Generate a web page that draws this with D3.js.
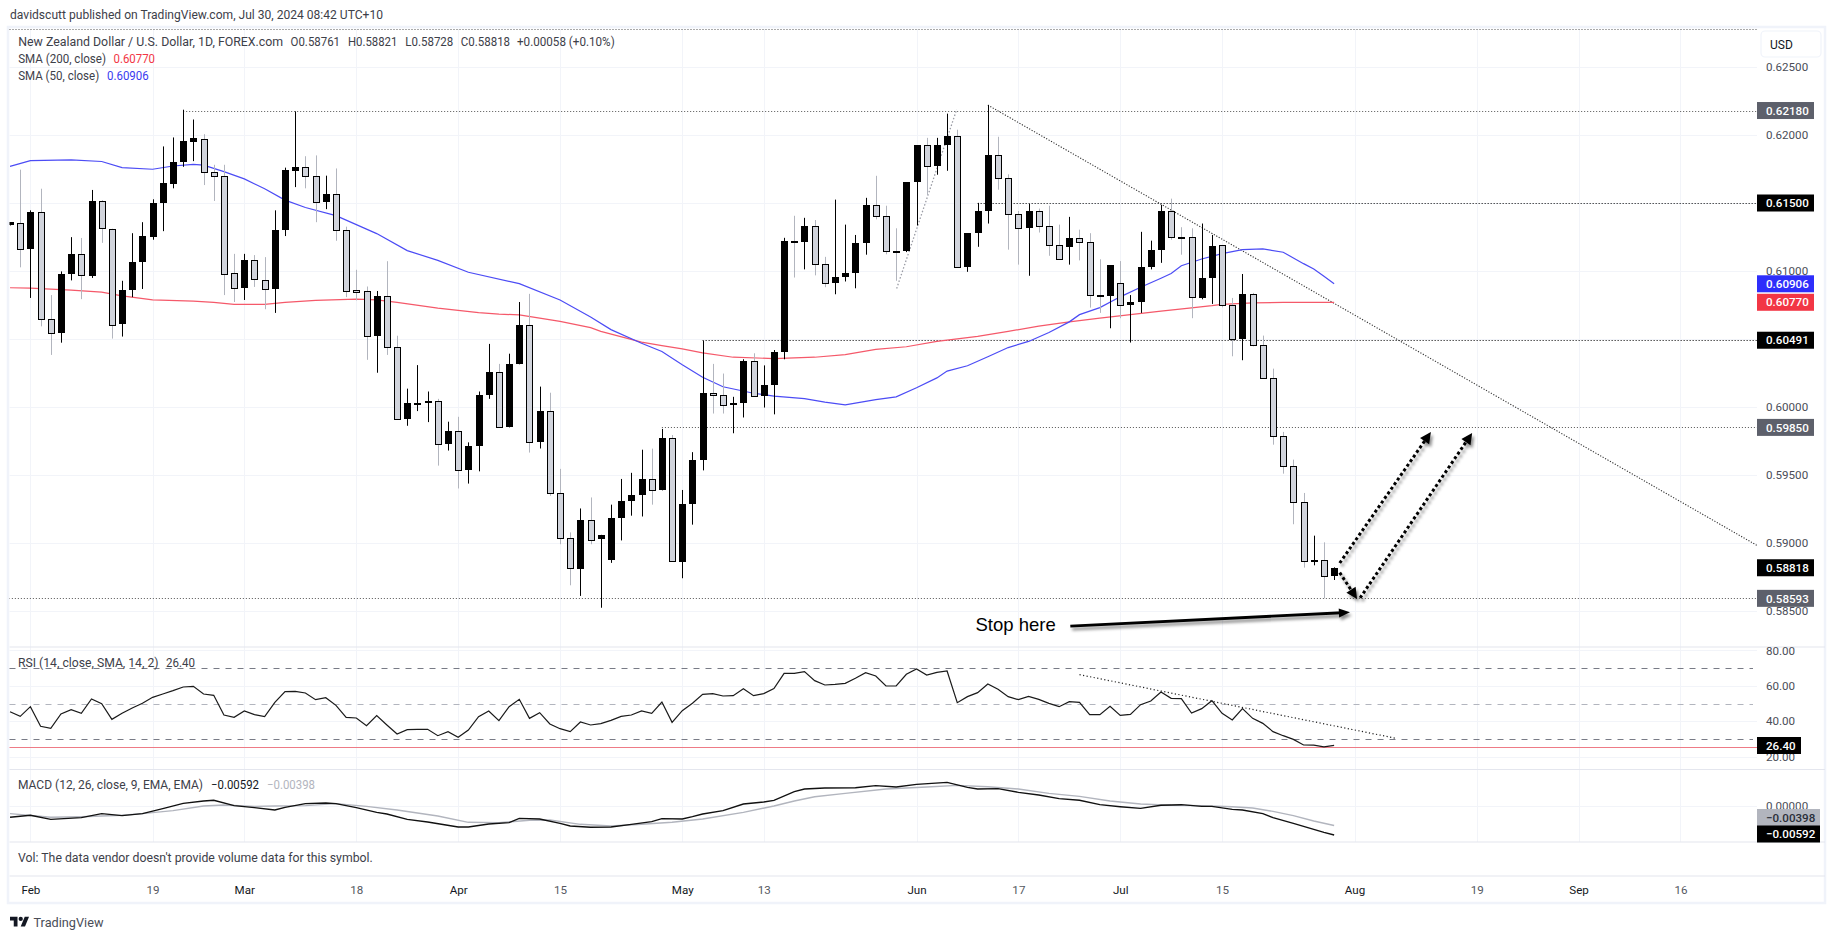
<!DOCTYPE html>
<html><head><meta charset="utf-8">
<script src="https://cdn.jsdelivr.net/npm/d3@7/dist/d3.min.js"></script>
<style>
html,body{margin:0;padding:0;background:#fff;overflow:hidden}
svg{display:block}
text{font-family:Roboto,"Noto Sans",sans-serif;font-size:12px;fill:#3d4049}
.axis text{font-family:Roboto,sans-serif;font-size:11.6px;fill:#4a4d57}
.axis path,.axis line{display:none}
</style></head><body>
<script>
// ---------- data ----------
const firstBar = -2; // bar number 0 = 1 Feb 2024
const opens = [
.61335,.61356,.61168,.61437,.60644,.60542,.60973,.61123,.60964,.61512,
.61311,.60608,.60856,.61063,.61251,.61494,.61641,.61802,.61949,.61973,
.61731,.61701,.60982,.60871,.61078,.60937,.60865,.61296,.61737,.61766,
.61701,.61509,.61569,.61305,.60862,.60850,.60518,.60814,.60440,.59910,
.60027,.60039,.60045,.59727,.59823,.59536,.59713,.60087,.60257,.59850,
.60314,.60602,.59742,.59970,.59368,.59036,.58811,.59171,.59027,.58872,
.59182,.59308,.59353,.59471,.59387,.59770,.58864,.59285,.59608,.60101,
.60088,.60015,.60028,.60338,.60080,.60159,.60401,.61220,.61209,.61330,
.61052,.60910,.60952,.60984,.61204,.61485,.61401,.61146,.61144,.61651,
.61926,.61769,.61924,.61992,.61025,.61278,.61438,.61853,.61682,.61420,
.61314,.61441,.61330,.61191,.61173,.61241,.61212,.60823,.60813,.60910,
.60750,.60768,.61026,.61152,.61441,.61249,.61249,.60802,.60947,.61189,
.60748,.60500,.60831,.60456,.60214,.59787,.59567,.59302,.58873,.58875,.58761];
const closes = [
.61359,.61168,.61437,.60647,.60542,.60976,.61123,.60967,.61512,.61311,
.60608,.60859,.61063,.61254,.61500,.61644,.61805,.61955,.61976,.61731,
.61701,.60982,.60871,.61078,.60937,.60868,.61299,.61740,.61766,.61701,
.61512,.61569,.61305,.60859,.60850,.60521,.60814,.60440,.59913,.60030,
.60033,.60045,.59727,.59823,.59539,.59713,.60087,.60257,.59853,.60314,
.60602,.59745,.59970,.59368,.59036,.58814,.59171,.59027,.59060,.59182,
.59308,.59353,.59471,.59390,.59770,.58867,.59287,.59610,.60101,.60088,
.60015,.60028,.60338,.60080,.60162,.60403,.61220,.61215,.61330,.61052,
.60913,.60955,.60984,.61204,.61485,.61401,.61146,.61144,.61653,.61926,
.61769,.61926,.61992,.61028,.61278,.61441,.61853,.61685,.61420,.61317,
.61441,.61330,.61191,.61089,.61241,.61212,.60823,.60821,.61044,.60750,
.60773,.61028,.61154,.61441,.61249,.61246,.60808,.60947,.61183,.60748,
.60500,.60831,.60456,.60214,.59787,.59567,.59302,.58868,.58878,.58755,.58818];
const highs = [
.61359,.61745,.61446,.61605,.60823,.60997,.61249,.61243,.61596,.61521,
.61311,.60928,.61278,.61359,.61527,.61916,.61982,.62186,.62114,.62006,
.61781,.61781,.61126,.61126,.61117,.61102,.61446,.61760,.62174,.61844,
.61850,.61701,.61754,.61326,.61009,.60886,.60853,.61072,.60524,.60135,
.60308,.60114,.60060,.59892,.59928,.59740,.60114,.60464,.60317,.60392,
.60772,.60832,.60150,.60105,.59545,.59078,.59254,.59335,.59060,.59282,
.59471,.59516,.59686,.59694,.59839,.59794,.59390,.59668,.60487,.60317,
.60246,.60075,.60351,.60395,.60306,.60419,.61244,.61406,.61391,.61375,
.61104,.61525,.61341,.61265,.61538,.61700,.61480,.61314,.61653,.61926,
.61979,.61979,.62157,.62039,.61278,.61501,.62220,.61987,.61711,.61441,
.61493,.61459,.61480,.61341,.61398,.61304,.61278,.61086,.61044,.61073,
.60823,.61288,.61223,.61485,.61532,.61322,.61314,.61349,.61265,.61189,
.60802,.60978,.60839,.60525,.60282,.59817,.59613,.59368,.59054,.59005,.58821];
const lows = [
.61335,.61027,.60802,.60593,.60383,.60473,.60931,.60793,.60949,.61207,
.60503,.60518,.60808,.60868,.61230,.61293,.61608,.61766,.61808,.61632,
.61515,.60823,.60772,.60787,.60883,.60719,.60692,.61257,.61617,.61608,
.61359,.61455,.61222,.60808,.60784,.60347,.60252,.60383,.59910,.59862,
.59970,.59889,.59569,.59680,.59401,.59437,.59527,.60060,.59850,.59850,
.60314,.59665,.59695,.59347,.58991,.58689,.58611,.58991,.58524,.58854,
.59019,.59201,.59195,.59282,.59387,.58862,.58741,.59135,.59534,.59952,
.59952,.59807,.59923,.60075,.59996,.59946,.60351,.60952,.61012,.60968,
.60881,.60829,.60923,.60873,.61120,.61380,.61123,.60928,.61139,.61335,
.61559,.61708,.61737,.61023,.60994,.61178,.61349,.61598,.61157,.61047,
.60965,.61283,.61112,.61081,.61047,.61078,.60731,.60692,.60579,.60653,
.60474,.60692,.61012,.61060,.61230,.61120,.60653,.60792,.60758,.60733,
.60373,.60344,.60446,.60214,.59723,.59510,.59138,.58819,.58836,.58593,.58728];

const sma50Bars = [-2,0,4,7,9,12,14,16,17,19,21,23,25,27,30,32,34,37,40,43,48,52,55,57,60,62,64,66,68,71,73,76,78,80,83,85,87,89,90,92,94,96,98,100,102,103,105,107,109,111,112,113,115,117,119,121,123,124,125,126,127,128];
const sma50Vals = [.61769,.61811,.61817,.61805,.61760,.61748,.61772,.61784,.61778,.61731,.61677,.61605,.61521,.61467,.61407,.61341,.61275,.61150,.61078,.60991,.60907,.60787,.60662,.60569,.60469,.60408,.60311,.60219,.60149,.60101,.60080,.60062,.60036,.60015,.60054,.60075,.60141,.60214,.60264,.60303,.60369,.60437,.60482,.60548,.60626,.60679,.60731,.60810,.60881,.60947,.60981,.61039,.61088,.61128,.61157,.61162,.61138,.61096,.61054,.61015,.60961,.60906];
const sma200Bars = [-2,0,4,7,9,12,16,18,20,23,25,28,32,34,36,40,44,46,48,50,52,55,56,60,62,64,66,69,73,77,80,83,86,89,93,96,99,102,105,108,111,114,116,117,120,123,128];
const sma200Vals = [.60877,.60874,.60859,.60844,.60817,.60787,.60778,.60769,.60754,.60754,.60769,.60784,.60793,.60787,.60769,.60727,.60694,.60683,.60677,.60653,.60629,.60584,.60556,.60477,.60451,.60427,.60398,.60366,.60356,.60366,.60385,.60424,.60443,.60482,.60519,.60556,.60595,.60626,.60653,.60679,.60705,.60729,.60745,.60755,.60765,.60770,.60770];

const rsiVals = [
45.39,42.76,48.21,37.12,35.99,44.08,46.52,44.45,52.54,49.91,41.07,44.45,47.46,50.10,53.48,55.36,57.24,59.31,59.69,55.36,54.61,
43.51,42.20,45.77,43.70,42.57,50.66,56.68,56.87,55.93,52.16,53.29,48.97,42.20,41.82,37.49,43.14,37.87,32.79,35.24,35.43,35.43,
31.85,34.11,30.91,35.05,42.57,45.77,40.31,48.21,52.35,41.63,44.83,38.43,35.80,34.11,39.56,37.87,38.62,40.50,42.76,43.51,45.77,
44.45,50.85,39.37,45.96,50.10,55.20,55.55,54.23,54.42,58.37,54.42,55.55,58.37,67.02,67.02,67.96,62.88,60.44,60.82,61.38,64.20,
67.40,65.52,59.87,59.87,66.46,69.47,66.08,67.59,68.34,50.47,53.86,56.11,61.00,58.00,53.86,52.16,54.04,52.35,50.10,48.21,51.04,
50.66,43.70,43.70,48.40,43.32,43.89,49.34,51.41,56.49,52.92,52.73,44.64,47.09,51.60,44.45,40.69,47.09,41.63,38.81,34.11,31.85,
29.78,26.60,26.50,25.60,26.40];

const macdBars = [-2,0,2,5,7,9,11,13,15,17,18,20,22,24,25,27,29,30,32,34,35,37,39,42,43,45,47,48,50,52,53,55,57,59,61,62,64,65,66,68,70,72,73,75,76,78,81,83,85,87,90,92,93,95,97,99,101,103,105,107,109,111,113,115,116,118,119,121,122,124,126,127,128];
const macdVals = [-.00231,-.00190,-.00272,-.00238,-.00156,-.00197,-.00156,-.00054,.00054,.00102,.00116,.00007,-.00034,-.00082,-.00027,.00048,.00061,.00048,-.00034,-.00129,-.00163,-.00272,-.00326,-.00428,-.00428,-.00367,-.00340,-.00252,-.00265,-.00354,-.00408,-.00435,-.00428,-.00374,-.00320,-.00258,-.00265,-.00218,-.00163,-.00095,.00041,.00082,.00116,.00292,.00347,.00367,.00374,.00415,.00388,.00442,.00483,.00381,.00347,.00354,.00279,.00224,.00150,.00116,.00027,-.00014,-.00048,.00014,.00027,-.00007,-.00007,-.00068,-.00082,-.00156,-.00238,-.00354,-.00476,-.00537,-.00592];
const signalBars = [-2,2,5,9,11,14,17,19,22,24,27,30,33,36,40,43,46,49,51,54,57,60,63,66,70,73,75,77,80,84,88,91,94,97,100,103,106,109,112,115,118,120,122,124,126,128];
const signalVals = [-.00156,-.00231,-.00218,-.00190,-.00156,-.00095,0,.00020,-.00007,0,.00007,.00048,-.00007,-.00082,-.00204,-.00333,-.00340,-.00292,-.00286,-.00374,-.00408,-.00374,-.00333,-.00265,-.00129,0,.00102,.00190,.00258,.00347,.00388,.00422,.00394,.00347,.00258,.00197,.00102,.00041,.00014,.00007,-.00014,-.00041,-.00109,-.00197,-.00306,-.00398];

const priceTicks = [.585,.59,.595,.6,.605,.61,.615,.62,.625];
const rsiTicks = [20,40,60,80];
const rsiBands = [70,50,30];
const macdTicks = [0];
const timeBars = [0,12,21,32,42,52,64,72,87,97,107,117,130,142,152,162];
const timeLabels = ["Feb","19","Mar","18","Apr","15","May","13","Jun","17","Jul","15","Aug","19","Sep","16"];

const levelPrices = [.6218,.615,.60491,.5985,.58593];
const levelStarts = [15,93,66,62,-3];
const levelLabels = ["0.62180","0.61500","0.60491","0.59850","0.58593"];
const levelColors = ["#5d606b","#000000","#000000","#5d606b","#5d606b"];

// ---------- layout ----------
const W=1835,H=939,L=9.5,R=1757,T=29,RB=1825;
const svg=d3.select("body").append("svg").attr("width",W).attr("height",H);
const defs=svg.append("defs");
defs.append("clipPath").attr("id","mainClip").append("rect").attr("x",L).attr("y",T).attr("width",R-L).attr("height",647-T);
defs.append("filter").attr("id","sh").attr("x","-20%").attr("y","-20%").attr("width","140%").attr("height","140%")
 .append("feDropShadow").attr("dx",2).attr("dy",3).attr("stdDeviation",1.6).attr("flood-color","#000").attr("flood-opacity",.45);

const x=d3.scaleLinear().domain([0,130]).range([30.4,1354.5]);
const y=d3.scaleLinear().domain([.61,.6]).range([271,407]);
const yRsi=d3.scaleLinear().domain([80,20]).range([650.3,756.7]);
const yMacd=d3.scaleLinear().domain([0,-.00592]).range([806,835]);

const bars=d3.range(opens.length).map(i=>({b:i+firstBar,o:opens[i],c:closes[i],h:highs[i],l:lows[i]}));

// frame
const fr="#f0f3fa";
svg.append("rect").attr("x",8).attr("y",27).attr("width",RB-8).attr("height",903-27).attr("fill","none").attr("stroke",fr).attr("stroke-width",2.5);
// grid
const grid=svg.append("g").attr("stroke","#f2f4f9").attr("stroke-width",1);
grid.selectAll("line.v").data(timeBars).join("line").attr("x1",d=>Math.round(x(d))+.5).attr("x2",d=>Math.round(x(d))+.5).attr("y1",T).attr("y2",842);
grid.selectAll("line.p").data(priceTicks).join("line").attr("x1",L).attr("x2",R).attr("y1",d=>Math.round(y(d))+.5).attr("y2",d=>Math.round(y(d))+.5);
grid.selectAll("line.r").data(rsiTicks).join("line").attr("x1",L).attr("x2",R).attr("y1",d=>Math.round(yRsi(d))+.5).attr("y2",d=>Math.round(yRsi(d))+.5);
grid.selectAll("line.m").data(macdTicks).join("line").attr("x1",L).attr("x2",R).attr("y1",d=>Math.round(yMacd(d))+.5).attr("y2",d=>Math.round(yMacd(d))+.5);
// separators
svg.append("g").attr("stroke","#e4e6ee").attr("stroke-width",1.2).selectAll("line").data([647,769.5,842,876]).join("line")
 .attr("x1",L).attr("x2",RB).attr("y1",d=>d).attr("y2",d=>d);

// top dotted
svg.append("line").attr("x1",L).attr("x2",R).attr("y1",29.5).attr("y2",29.5).attr("stroke","#555").attr("stroke-width",1).attr("stroke-dasharray","1 2");

const main=svg.append("g").attr("clip-path","url(#mainClip)");
// level lines
levelPrices.forEach((p,i)=>{
 main.append("line").attr("x1",x(levelStarts[i])).attr("x2",R).attr("y1",Math.round(y(p))+.5).attr("y2",Math.round(y(p))+.5)
  .attr("stroke",levelColors[i]==="#000000"?"#000":"#555").attr("stroke-width",1).attr("stroke-dasharray","1 2");
});
// trend lines
const trendBars=[94,169.5], trendPrices=[.6222,.58983];
main.append("line").attr("x1",x(trendBars[0])).attr("y1",y(trendPrices[0])).attr("x2",x(trendBars[1])).attr("y2",y(trendPrices[1]))
 .attr("stroke","#333").attr("stroke-width",1.1).attr("stroke-dasharray","1.2 1.6");
const rayBars=[85.05,90.95], rayPrices=[.60871,.62189];
main.append("line").attr("x1",x(rayBars[0])).attr("y1",y(rayPrices[0])).attr("x2",x(rayBars[1])).attr("y2",y(rayPrices[1]))
 .attr("stroke","#9a9ca5").attr("stroke-width",1.3).attr("stroke-dasharray","1.5 2");

// moving averages
const ln=d3.line();
main.append("path").attr("d",ln(sma200Bars.map((b,i)=>[x(b),y(sma200Vals[i])]))).attr("fill","none").attr("stroke","#f5596a").attr("stroke-width",1.2);
main.append("path").attr("d",ln(sma50Bars.map((b,i)=>[x(b),y(sma50Vals[i])]))).attr("fill","none").attr("stroke","#4c4cf5").attr("stroke-width",1.2);

// candles
const g=main.append("g");
g.selectAll("rect.w").data(bars).join("rect").attr("x",d=>Math.round(x(d.b))).attr("width",1)
 .attr("y",d=>y(d.h)).attr("height",d=>Math.max(1,y(d.l)-y(d.h))).attr("fill",d=>d.c>=d.o?"#000":"#b2b5be");
g.selectAll("rect.b").data(bars).join("rect")
 .attr("x",d=>Math.round(x(d.b))-3+(d.c>=d.o?0:.5))
 .attr("width",d=>d.c>=d.o?7:6)
 .attr("y",d=>Math.round(y(Math.max(d.o,d.c)))+(d.c>=d.o?0:.5))
 .attr("height",d=>Math.max(d.c>=d.o?2:1,Math.round(y(Math.min(d.o,d.c))-y(Math.max(d.o,d.c)))))
 .attr("fill",d=>d.c>=d.o?"#000":"#d1d4dc").attr("stroke",d=>d.c>=d.o?"none":"#000").attr("stroke-width",1);

// annotation arrows
const ann=svg.append("g").attr("filter","url(#sh)");
const arrowBars=[[128.55,137.5],[128.55,130.25],[130.55,141.55]];
const arrowPrices=[[.58853,.59816],[.58782,.58588],[.58596,.59809]];
function head(x2,y2,ang,len,wid){
 const c=Math.cos(ang),s=Math.sin(ang);
 return `M${x2},${y2}L${x2-len*c-wid*s},${y2-len*s+wid*c}L${x2-len*c+wid*s},${y2-len*s-wid*c}Z`;
}
arrowBars.forEach((bs,i)=>{
 const x1=x(bs[0]),x2=x(bs[1]),y1=y(arrowPrices[i][0]),y2=y(arrowPrices[i][1]);
 const a=Math.atan2(y2-y1,x2-x1);
 ann.append("line").attr("x1",x1).attr("y1",y1).attr("x2",x2-8*Math.cos(a)).attr("y2",y2-8*Math.sin(a))
  .attr("stroke","#000").attr("stroke-width",3).attr("stroke-dasharray","3 2.6");
 ann.append("path").attr("d",head(x2,y2,a,11,5.5)).attr("fill","#000");
});
const stopBars=[102.1,129.55], stopPrices=[.58389,.5849];
{
 const x1=x(stopBars[0]),x2=x(stopBars[1]),y1=y(stopPrices[0]),y2=y(stopPrices[1]);
 const a=Math.atan2(y2-y1,x2-x1);
 ann.append("line").attr("x1",x1).attr("y1",y1).attr("x2",x2-8*Math.cos(a)).attr("y2",y2-8*Math.sin(a)).attr("stroke","#000").attr("stroke-width",2.8);
 ann.append("path").attr("d",head(x2,y2,a,11,4.5)).attr("fill","#000");
}
svg.append("text").attr("x",975.5).attr("y",631).text("Stop here").style("font-family","'Liberation Sans',Arial,sans-serif").style("font-size","18.5px").style("fill","#000");

// RSI pane
const rsi=svg.append("g");
rsi.selectAll("line").data(rsiBands).join("line").attr("x1",L).attr("x2",1753).attr("y1",d=>Math.round(yRsi(d))+.5).attr("y2",d=>Math.round(yRsi(d))+.5)
 .attr("stroke",d=>d===50?"#b2b5be":"#787b86").attr("stroke-width",1).attr("stroke-dasharray","6 6");
const rsiMark=25.3;
rsi.append("line").attr("x1",L).attr("x2",R).attr("y1",Math.round(yRsi(rsiMark))+.5).attr("y2",Math.round(yRsi(rsiMark))+.5).attr("stroke","#ee7b86").attr("stroke-width",1.2);
rsi.append("path").attr("d",ln(rsiVals.map((v,i)=>[Math.max(L,x(i+firstBar)),yRsi(v)]))).attr("fill","none").attr("stroke","#1a1a1a").attr("stroke-width",1.2);
const rsiTrendBars=[103,134.1], rsiTrendVals=[66.27,30.35];
rsi.append("line").attr("x1",x(rsiTrendBars[0])).attr("y1",yRsi(rsiTrendVals[0])).attr("x2",x(rsiTrendBars[1])).attr("y2",yRsi(rsiTrendVals[1]))
 .attr("stroke","#222").attr("stroke-width",1.2).attr("stroke-dasharray","1.2 2.4");

// MACD pane
svg.append("path").attr("d",ln(signalBars.map((b,i)=>[Math.max(L,x(b)),yMacd(signalVals[i])]))).attr("fill","none").attr("stroke","#b2b5be").attr("stroke-width",1.4);
svg.append("path").attr("d",ln(macdBars.map((b,i)=>[Math.max(L,x(b)),yMacd(macdVals[i])]))).attr("fill","none").attr("stroke","#111").attr("stroke-width",1.4);

// axes
svg.append("g").attr("class","axis").attr("transform",`translate(${R},0)`)
 .call(d3.axisRight(y).tickValues(priceTicks).tickSize(0).tickPadding(9).tickFormat(d3.format(".5f")));
svg.append("g").attr("class","axis").attr("transform",`translate(${R},0)`)
 .call(d3.axisRight(yRsi).tickValues(rsiTicks).tickSize(0).tickPadding(9).tickFormat(d3.format(".2f")));
svg.append("g").attr("class","axis").attr("transform",`translate(${R},0)`)
 .call(d3.axisRight(yMacd).tickValues(macdTicks).tickSize(0).tickPadding(9).tickFormat(d3.format(".5f")));
const timeAxis=svg.append("g").attr("class","axis").attr("transform","translate(0,884)")
 .call(d3.axisBottom(x).tickValues(timeBars).tickSize(0).tickPadding(0).tickFormat((d,i)=>timeLabels[i]));
timeAxis.selectAll("text").attr("dy","0.35em").attr("y",6).style("fill",(d,i)=>/[a-z]/.test(timeLabels[i])?"#131722":"#55585f");

// value tags
function tag(v,yy,fill,txt,w,tc){
 svg.append("rect").attr("x",R).attr("y",yy-8.5).attr("width",w).attr("height",17).attr("fill",fill);
 svg.append("text").attr("x",R+9).attr("y",yy).attr("dy",".36em").text(txt).style("fill",tc||"#fff").style("font-weight",500).style("font-size","11.6px");
}
levelPrices.forEach((p,i)=>tag(p,y(p),levelColors[i],levelLabels[i],57));
tag(.60906,y(.60906),"#2e2efb","0.60906",57);
tag(.6077,y(.6077),"#f23645","0.60770",57);
tag(.58818,y(.58818),"#000","0.58818",57);
tag(26.4,745.5,"#000","26.40",44);
tag(-.00398,817.5,"#b2b5be","\u22120.00398",63,"#2a2e39");
tag(-.00592,834,"#000","\u22120.00592",63);

// USD box
svg.append("rect").attr("x",1761).attr("y",31).attr("width",60).attr("height",26).attr("rx",4).attr("fill","#fff").attr("stroke",fr).attr("stroke-width",1.2);
svg.append("text").attr("x",1770).attr("y",44.5).attr("dy",".36em").text("USD").style("fill","#131722");

// headers: x, y, text, measured width, colour
const t=(xx,yy,s,wd,col)=>svg.append("text").attr("x",xx).attr("y",yy).attr("dy",".36em").attr("textLength",wd).attr("lengthAdjust","spacingAndGlyphs").text(s).style("fill",col||"#3d4049");
t(10,14.5,"davidscutt published on TradingView.com, Jul 30, 2024 08:42 UTC+10",373);
t(18.2,41.5,"New Zealand Dollar / U.S. Dollar, 1D, FOREX.com",265);
t(290.6,41.5,"O0.58761",49.4);t(348,41.5,"H0.58821",49.4);t(405.3,41.5,"L0.58728",48);t(460.8,41.5,"C0.58818",49.3);t(517,41.5,"+0.00058 (+0.10%)",97.7);
t(18.2,58.5,"SMA (200, close)",87.8);t(113.5,58.5,"0.60770",41.5,"#f23645");
t(18.2,75.5,"SMA (50, close)",81);t(107,75.5,"0.60906",41.7,"#3a3af0");
t(18,662.7,"RSI (14, close, SMA, 14, 2)",140.5);t(166,662.7,"26.40",29);
t(18,784.7,"MACD (12, 26, close, 9, EMA, EMA)",185);t(211,784.7,"\u22120.00592",48,"#131722");t(267,784.7,"\u22120.00398",48,"#b2b5be");
t(18,858,"Vol: The data vendor doesn't provide volume data for this symbol.",354.8);

// logo
svg.append("g").attr("transform","translate(10,914.6) scale(.536)").call(s=>{
 s.append("path").attr("d","M14 22H7V11H0V4h14v18zM28 22h-8l7.5-18h8L28 22z").attr("fill","#131722");
 s.append("circle").attr("cx",20).attr("cy",8).attr("r",4).attr("fill","#131722");
});
t(33.5,921.7,"TradingView",70,"#4a4d57").style("font-size","13.5px");
</script>
</body></html>
